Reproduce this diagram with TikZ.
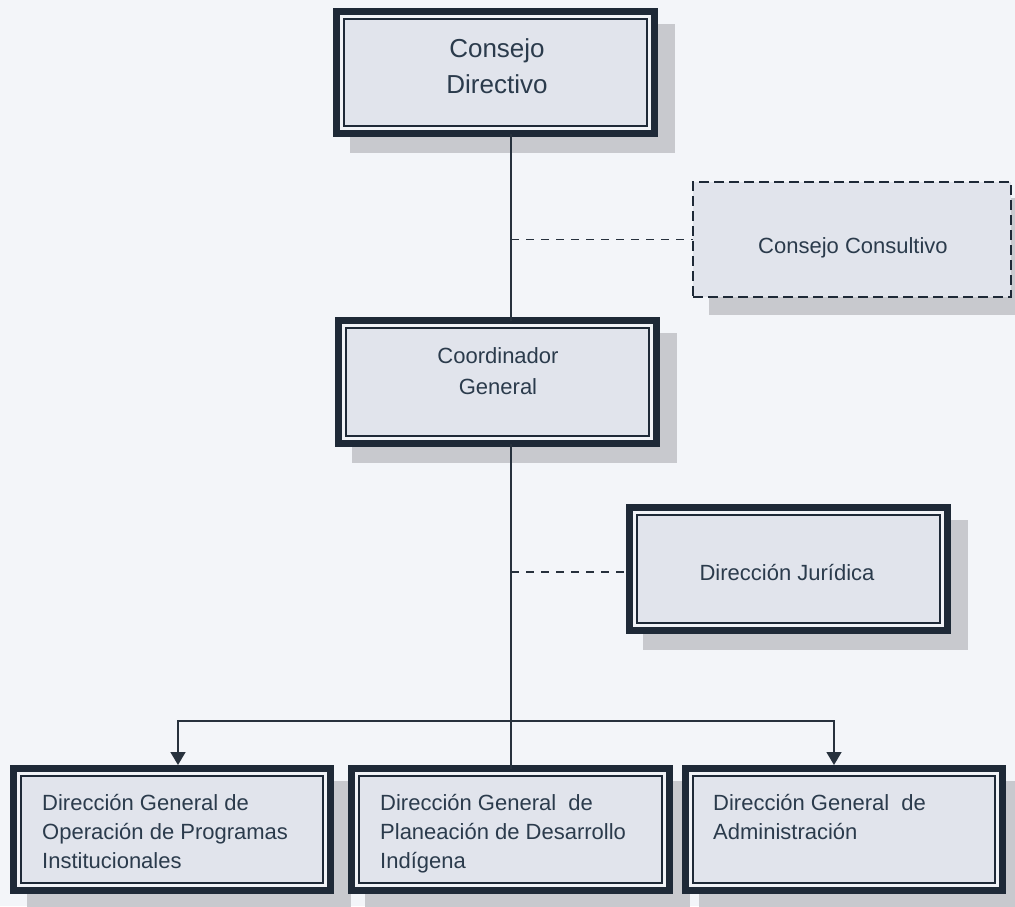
\documentclass[tikz,border=0pt]{standalone}
\usepackage{fontspec}
\setmainfont{Liberation Sans}
\usetikzlibrary{arrows.meta,calc}
\pgfdeclarelayer{back}
\pgfdeclarelayer{shade}
\pgfsetlayers{back,shade,main}
\definecolor{bgcol}{HTML}{F3F5F9}
\definecolor{bordcol}{HTML}{1E2937}
\definecolor{txtcol}{HTML}{2B3B4C}
\definecolor{boxfill}{HTML}{E1E4EC}
\definecolor{gapcol}{HTML}{F1F3F7}
\definecolor{shcol}{HTML}{C8C9CE}
\definecolor{linecol}{HTML}{27313D}
\tikzset{
 obox/.style={draw=bordcol, line width=7pt, fill=gapcol, inner sep=0pt, outer sep=0pt},
 inbox/.style={draw=bordcol, line width=1.8pt, fill=boxfill},
 dbox/.style={draw=bordcol, line width=2pt, dash pattern=on 10pt off 5pt, fill=boxfill, inner sep=0pt, outer sep=0pt},
 conn/.style={draw=linecol, line width=1.5pt},
 dconn/.style={conn, dash pattern=on 8pt off 7pt},
 arr/.style={conn, -{Triangle[width=15pt,length=13pt]}},
 tbig/.style={font=\fontsize{26}{36}\selectfont, text=txtcol, align=center, inner sep=0pt},
 tmid/.style={font=\fontsize{22}{31}\selectfont, text=txtcol, align=center, inner sep=0pt},
 tleft/.style={font=\fontsize{22}{29}\selectfont, text=txtcol, align=left, inner sep=0pt, anchor=north west},
}
\newcommand\innerframe[1]{\draw[inbox] ([shift={(7.5pt,7.5pt)}]#1.south west) rectangle ([shift={(-7.5pt,-7.5pt)}]#1.north east);}
\newcommand\boxshade[1]{\fill[shcol] ([shift={(13.5pt,-19.5pt)}]#1.south west) rectangle ([shift={(20.5pt,-12.5pt)}]#1.north east);}
\begin{document}
\begin{tikzpicture}[x=1pt,y=-1pt]
\useasboundingbox (0,0) rectangle (1015,906);
\begin{pgfonlayer}{back}
\fill[bgcol] (0,0) rectangle (1015,906);
\end{pgfonlayer}
% boxes
\node[obox, minimum width=318pt, minimum height=122pt] (cd) at (495.5,72.5) {};
\innerframe{cd}
\node[obox, minimum width=318pt, minimum height=123pt] (cg) at (497.5,382) {};
\innerframe{cg}
\node[dbox, minimum width=318pt, minimum height=115pt] (cc) at (852,239.5) {};
\node[obox, minimum width=318pt, minimum height=123pt] (dj) at (788.5,569) {};
\innerframe{dj}
\node[obox, minimum width=317pt, minimum height=122pt] (b1) at (172,829.5) {};
\innerframe{b1}
\node[obox, minimum width=318pt, minimum height=122pt] (b2) at (510.5,829.5) {};
\innerframe{b2}
\node[obox, minimum width=317pt, minimum height=122pt] (b3) at (844,829.5) {};
\innerframe{b3}
% shadows
\begin{pgfonlayer}{shade}
\boxshade{cd}
\boxshade{cg}
\boxshade{dj}
\boxshade{b1}
\boxshade{b2}
\boxshade{b3}
\fill[shcol] ([shift={(16pt,-18pt)}]cc.south west) rectangle ([shift={(18pt,-16pt)}]cc.north east);
\end{pgfonlayer}
% connectors
\coordinate (sp) at (511,0);
\coordinate (a1) at (178,721);
\coordinate (a3) at (834,721);
\draw[conn] (cd.south -| sp) -- (cg.north -| sp);
\draw[conn] (cg.south -| sp) -- (b2.north -| sp);
\draw[dconn] (sp |- cc.west) -- (cc.west);
\draw[dconn] ([yshift=-3pt]dj.west -| sp) -- ([yshift=-3pt]dj.west);
\draw[arr, shorten >=3.5pt] (sp |- a1) -| (b1.north -| a1);
\draw[arr, shorten >=3.5pt] (sp |- a3) -| (b3.north -| a3);
% texts
\node[tbig, anchor=north] (cdt) at (497,38) {Consejo\\Directivo};
\node[tmid, anchor=north] (cgt) at (498,347) {Coordinador\\General};
\node[tmid, anchor=base] (cct) at (853,253) {Consejo Consultivo};
\node[tmid, anchor=base] (djt) at (787,580) {Dirección Jurídica};
\node[tleft] (b1t) at (42,794) {Dirección General de\\Operación de Programas\\Institucionales};
\node[tleft] (b2t) at (380,794) {Dirección General\ \ de\\Planeación de Desarrollo\\Indígena};
\node[tleft] (b3t) at (713,794) {Dirección General\ \ de\\Administración};
\end{tikzpicture}
\end{document}
